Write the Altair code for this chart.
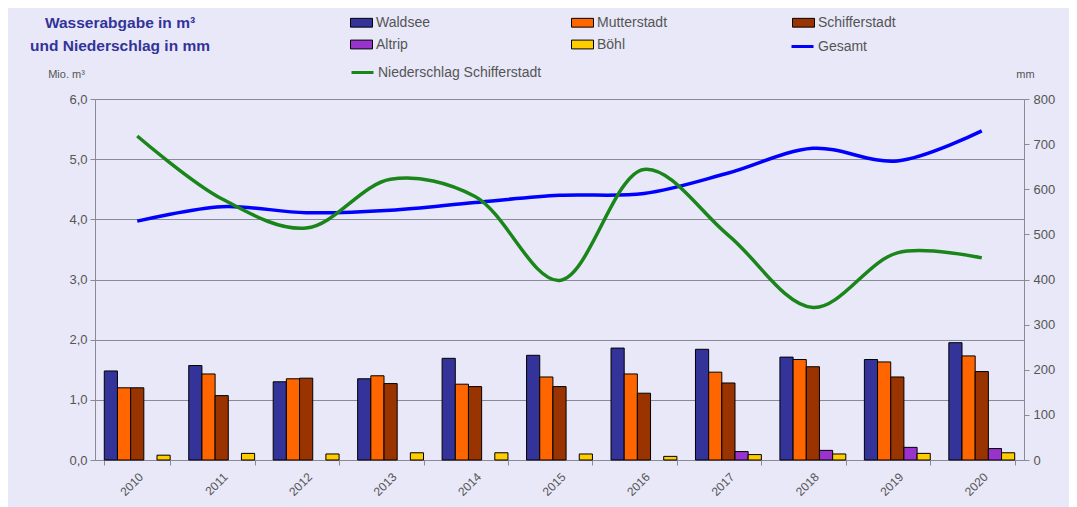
import altair as alt
import pandas as pd

years = [str(y) for y in range(2010, 2021)]
series = ["Waldsee", "Mutterstadt", "Schifferstadt", "Altrip", "Böhl"]
colors = ["#333399", "#FF6600", "#993300", "#9933CC", "#FFCC00"]

waldsee = [1.48, 1.57, 1.30, 1.35, 1.69, 1.74, 1.86, 1.84, 1.71, 1.67, 1.95]
mutterstadt = [1.20, 1.43, 1.35, 1.40, 1.26, 1.38, 1.43, 1.46, 1.67, 1.63, 1.73]
schifferstadt = [1.20, 1.07, 1.36, 1.27, 1.22, 1.22, 1.11, 1.28, 1.55, 1.38, 1.47]
altrip = [0, 0, 0, 0, 0, 0, 0, 0.14, 0.16, 0.21, 0.19]
boehl = [0.08, 0.11, 0.10, 0.12, 0.12, 0.10, 0.06, 0.09, 0.10, 0.11, 0.12]
gesamt = [3.97, 4.21, 4.11, 4.15, 4.28, 4.40, 4.43, 4.77, 5.18, 4.97, 5.47]
niederschlag = [718, 579, 514, 622, 584, 398, 644, 498, 338, 459, 448]

rows = []
for name, vals in zip(series, [waldsee, mutterstadt, schifferstadt, altrip, boehl]):
    for yr, v in zip(years, vals):
        if v > 0:
            rows.append({"year": yr, "series": name, "value": v})
bars_df = pd.DataFrame(rows)
ges_df = pd.DataFrame({"year": years, "value": gesamt, "name": "Gesamt"})
nied_df = pd.DataFrame({"year": years, "value": niederschlag, "name": "Niederschlag Schifferstadt"})

FONT = "Liberation Sans"
GREY = "#555555"
AXC = "#8A8A96"
RECT = "M-1,-0.4L1,-0.4L1,0.4L-1,0.4Z"

x_enc = alt.X(
    "year:N",
    scale=alt.Scale(domain=years, paddingInner=0.22, paddingOuter=0.11),
    axis=alt.Axis(title=None, labelAngle=-45, tickBand="extent", tickSize=5,
                  labelFontSize=12, labelColor=GREY, domainColor=AXC, tickColor=AXC,
                  labelPadding=6, grid=False),
)

left_axis = alt.Axis(title="Mio. m³", titleAngle=0, titleX=-29, titleY=-25,
                     titleAlign="center", titleBaseline="middle", titleFontSize=11,
                     titleFontWeight="normal", titleColor=GREY,
                     values=[0, 1, 2, 3, 4, 5, 6],
                     labelExpr="replace(format(datum.value, '.1f'), '.', ',')",
                     labelFontSize=13, labelColor=GREY, grid=True, gridColor=AXC,
                     domainColor=AXC, tickColor=AXC, tickSize=5, labelPadding=3)

bars = alt.Chart(bars_df).mark_bar(stroke="black", strokeWidth=1).encode(
    x=x_enc,
    xOffset=alt.XOffset("series:N", scale=alt.Scale(domain=series, paddingInner=0, paddingOuter=0)),
    y=alt.Y("value:Q", scale=alt.Scale(domain=[0, 6]), axis=left_axis),
    color=alt.Color("series:N", scale=alt.Scale(domain=series, range=colors),
                    legend=alt.Legend(orient="none", legendX=255, legendY=-88, columns=3,
                                      direction="horizontal",
                                      title=None, symbolType=RECT, symbolSize=484,
                                      symbolStrokeColor="black", symbolStrokeWidth=1,
                                      labelFontSize=14, labelColor=GREY, labelFont=FONT,
                                      labelOffset=3, gridAlign="all", columnPadding=115,
                                      rowPadding=3, padding=0, labelLimit=300)),
)

ges = alt.Chart(ges_df).mark_line(strokeWidth=3.5, interpolate="catmull-rom").encode(
    x=alt.X("year:N"),
    y=alt.Y("value:Q", scale=alt.Scale(domain=[0, 6]), axis=left_axis),
    stroke=alt.Stroke("name:N", scale=alt.Scale(domain=["Gesamt"], range=["#0000FF"]),
                      legend=alt.Legend(orient="none", legendX=695, legendY=-65, title=None,
                                        symbolType="stroke", symbolSize=484, symbolStrokeWidth=3,
                                        labelFontSize=14, labelColor=GREY, labelFont=FONT,
                                        labelOffset=3, padding=0, labelLimit=300)),
)

left = alt.layer(bars, ges)

nied = alt.Chart(nied_df).mark_line(strokeWidth=3.5, interpolate="catmull-rom").encode(
    x=alt.X("year:N"),
    y=alt.Y("value:Q", scale=alt.Scale(domain=[0, 800]),
            axis=alt.Axis(orient="right", title="mm", titleAngle=0, titleX=1, titleY=-25,
                          titleAlign="center", titleBaseline="middle", titleFontSize=11,
                          titleFontWeight="normal", titleColor=GREY,
                          values=list(range(0, 801, 100)), labelFontSize=13, labelColor=GREY,
                          grid=False, domainColor=AXC, tickColor=AXC, tickSize=5, labelPadding=4)),
    stroke=alt.Stroke("name:N", scale=alt.Scale(domain=["Niederschlag Schifferstadt"], range=["#1A861A"]),
                      legend=alt.Legend(orient="none", legendX=255, legendY=-39, title=None,
                                        symbolType="stroke", symbolSize=484, symbolStrokeWidth=3,
                                        labelFontSize=14, labelColor=GREY, labelFont=FONT,
                                        labelOffset=3, padding=0, labelLimit=300)),
)

chart = alt.layer(left, nied).resolve_scale(y="independent", stroke="independent").properties(
    width=929, height=361,
    padding={"left": 87, "top": 91, "right": 45, "bottom": 47},
    autosize=alt.AutoSizeParams(type="none"),
    background="#E8E8F8",
    title=alt.TitleParams(text=["Wasserabgabe in m³", "und Niederschlag in mm"], anchor="start",
                          align="center", dx=25, dy=47, fontSize=15.5, font=FONT, fontWeight="bold",
                          color="#333399", lineHeight=23, frame="group"),
).configure_view(stroke=None).configure(font=FONT)

chart.save("out.html", embed_options={"renderer": "svg", "actions": False})
